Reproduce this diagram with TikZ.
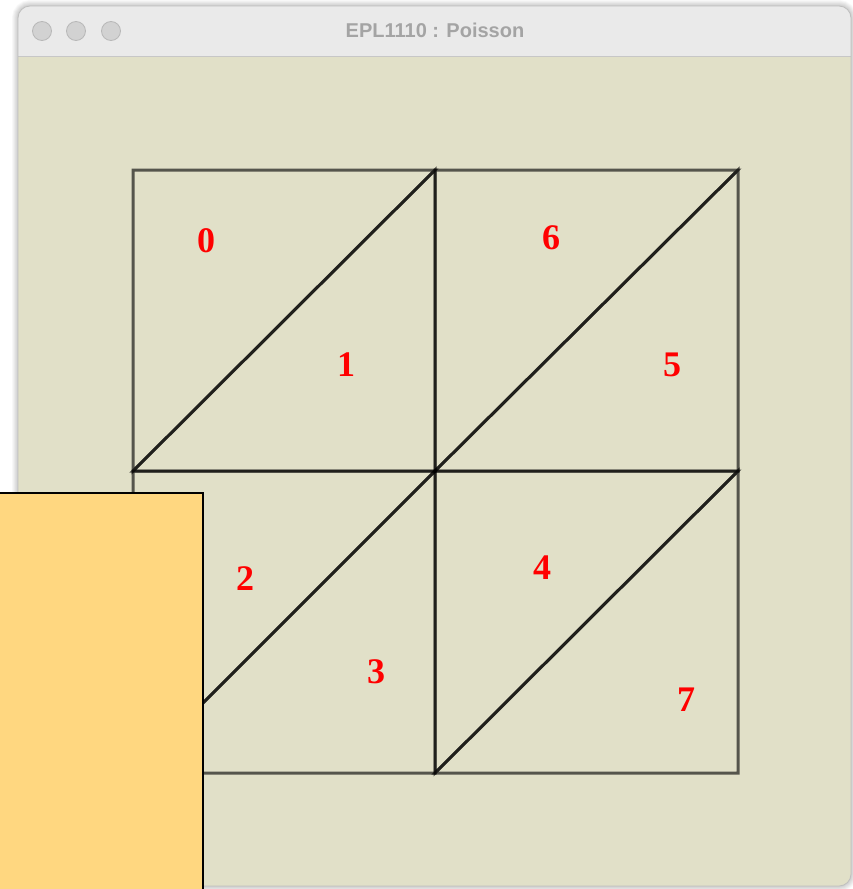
\documentclass[tikz,border=0pt]{standalone}
\usepackage{fontspec}
\setmainfont{Liberation Serif}
\newfontfamily\titlefont{Liberation Sans}
\definecolor{winbg}{HTML}{E1E0C8}
\definecolor{titlebg}{HTML}{EAEAEA}
\definecolor{titletext}{HTML}{A4A4A4}
\definecolor{orangebox}{HTML}{FFD780}
\definecolor{lightbtn}{HTML}{D2D2D2}
\tikzset{
  tri/.style={draw=black, draw opacity=0.62, line width=3pt, line join=miter},
  lbl/.style={text=red, font=\fontsize{36}{40}\selectfont\bfseries, inner sep=0pt},
  btn/.style={circle, fill=lightbtn, draw=black!28, line width=0.8pt, minimum size=19pt, inner sep=0pt},
}
\begin{document}
\begin{tikzpicture}[x=1pt,y=-1pt]
\useasboundingbox (0,0) rectangle (853,889);
\fill[white] (0,0) rectangle (853,889);
% shadow
\foreach \i in {1,...,8}{
  \draw[black, opacity=0.025, line width=\i*1.5pt, rounded corners=12pt] (18,6) rectangle (851,886);
}
% window
\fill[winbg, rounded corners=12pt] (18,6) rectangle (851,886);
\begin{scope}
\clip[rounded corners=12pt] (18,6) rectangle (851,886);
\fill[titlebg] (18,6) rectangle (851,56);
\draw[black!22, line width=1pt] (18,56) -- (851,56);
\end{scope}
\draw[black!25, line width=0.8pt, rounded corners=12pt] (18,6) rectangle (851,886);
% buttons
\node[btn] (b1) at (42,31) {};
\node[btn] (b2) at (76,31) {};
\node[btn] (b3) at (111,31) {};
\node[text=titletext, font=\titlefont\fontsize{20}{23}\selectfont\bfseries] (title) at (435,30) {EPL1110 : Poisson};
% mesh points
\coordinate (p00) at (133,773);
\coordinate (p10) at (435,773);
\coordinate (p20) at (738,773);
\coordinate (p01) at (133,471);
\coordinate (p11) at (435,471);
\coordinate (p21) at (738,471);
\coordinate (p02) at (133,170);
\coordinate (p12) at (435,170);
\coordinate (p22) at (738,170);
% triangles
\draw[tri] (p01) -- (p12) -- (p02) -- cycle; % 0
\draw[tri] (p01) -- (p11) -- (p12) -- cycle; % 1
\draw[tri] (p00) -- (p11) -- (p01) -- cycle; % 2
\draw[tri] (p00) -- (p10) -- (p11) -- cycle; % 3
\draw[tri] (p10) -- (p21) -- (p11) -- cycle; % 4
\draw[tri] (p11) -- (p21) -- (p22) -- cycle; % 5
\draw[tri] (p11) -- (p22) -- (p12) -- cycle; % 6
\draw[tri] (p10) -- (p20) -- (p21) -- cycle; % 7
% labels
\node[lbl] (t0) at (206,241) {0};
\node[lbl] (t1) at (346,365) {1};
\node[lbl] (t2) at (245,579) {2};
\node[lbl] (t3) at (376,672) {3};
\node[lbl] (t4) at (542,568) {4};
\node[lbl] (t5) at (672,365) {5};
\node[lbl] (t6) at (551,238) {6};
\node[lbl] (t7) at (686,700) {7};
% orange box
\draw[fill=orangebox, draw=black, line width=2pt] (-2,493) rectangle (203,895);
\end{tikzpicture}
\end{document}
